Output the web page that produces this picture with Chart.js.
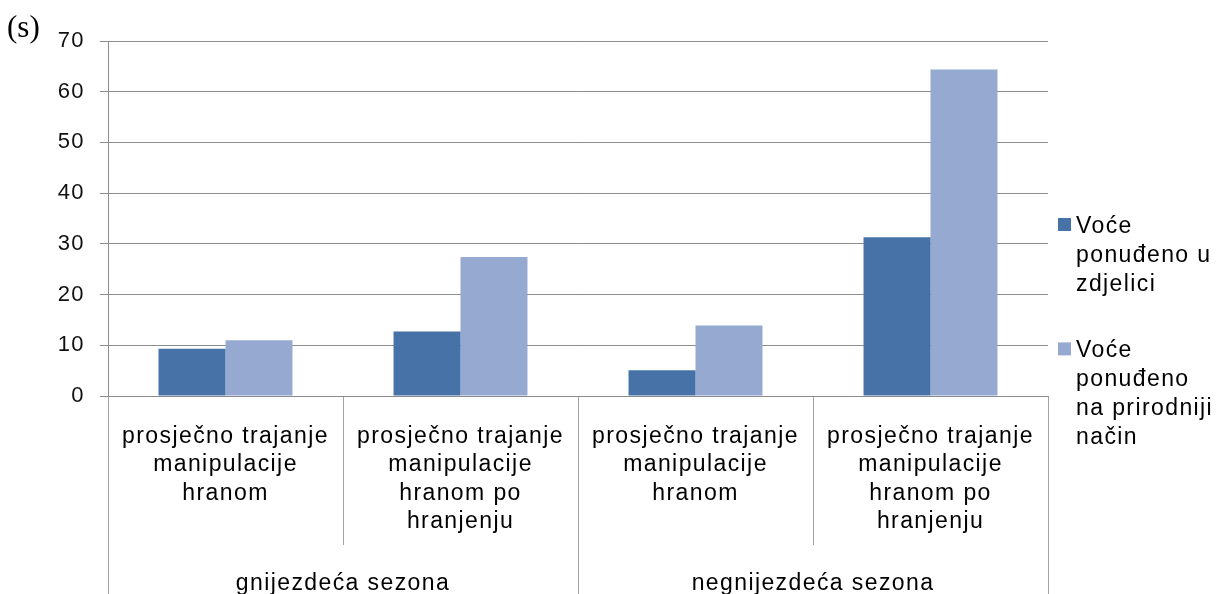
<!DOCTYPE html>
<html lang="hr">
<head>
<meta charset="utf-8">
<title>Trajanje manipulacije hranom</title>
<script src="https://cdn.jsdelivr.net/npm/chart.js@4.4.1/dist/chart.umd.min.js"></script>
<style>
  html, body { margin: 0; padding: 0; background: #fff; }
  #wrap { position: relative; width: 1216px; height: 594px; }
</style>
</head>
<body>
<div id="wrap"><canvas id="durationChart"></canvas></div>
<script>
// Categories: inner level (behaviour) and outer level (season)
const behaviours = [
  ['prosječno trajanje', 'manipulacije', 'hranom'],
  ['prosječno trajanje', 'manipulacije', 'hranom po', 'hranjenju'],
  ['prosječno trajanje', 'manipulacije', 'hranom'],
  ['prosječno trajanje', 'manipulacije', 'hranom po', 'hranjenju']
];
const seasons = ['gnijezdeća sezona', 'negnijezdeća sezona'];

// Duration in seconds
const bowlValues = [9.3, 12.7, 5.1, 31.3];
const naturalValues = [11.0, 27.4, 13.9, 64.4];

const seriesNames = ['Voće ponuđeno u zdjelici', 'Voće ponuđeno na prirodniji način'];
const seriesLines = [
  ['Voće', 'ponuđeno u', 'zdjelici'],
  ['Voće', 'ponuđeno', 'na prirodniji', 'način']
];

const yTicks = [0, 10, 20, 30, 40, 50, 60, 70];

const SANS = "'Liberation Sans', Arial, sans-serif";
const LINE = 28.8;
const gridGray = '#8c8c8c';
const sepGray = '#a2a2a2';

// Wide letter spacing for all canvas text
const spacing = {
  id: 'spacing',
  beforeDraw(chart) {
    chart.ctx.letterSpacing = '1.4px';
  }
};

// Unit label in the top left corner
const unitLabel = {
  id: 'unitLabel',
  afterDraw(chart) {
    const ctx = chart.ctx;
    ctx.save();
    ctx.letterSpacing = '0px';
    ctx.font = "31px 'Liberation Serif', 'Times New Roman', serif";
    ctx.fillStyle = '#000';
    ctx.textAlign = 'left';
    ctx.textBaseline = 'alphabetic';
    ctx.fillText('(s)', 7, 37);
    ctx.restore();
  }
};

// Legend on the right, with wrapped series names
const sideLegend = {
  id: 'sideLegend',
  afterDraw(chart) {
    const ctx = chart.ctx;
    const left = chart.chartArea.right + 10;
    let baseline = 233;
    ctx.save();
    ctx.letterSpacing = '1.4px';
    ctx.font = '23px ' + SANS;
    ctx.textAlign = 'left';
    ctx.textBaseline = 'alphabetic';
    chart.data.datasets.forEach((ds, i) => {
      ctx.fillStyle = ds.backgroundColor;
      ctx.fillRect(left, baseline - 15, 13, 13);
      ctx.fillStyle = '#000';
      seriesLines[i].forEach((line, j) => {
        ctx.fillText(line, left + 18, baseline + j * LINE);
      });
      baseline += seriesLines[i].length * LINE + 38;
    });
    ctx.restore();
  }
};

const ctx = document.getElementById('durationChart').getContext('2d');

new Chart(ctx, {
  type: 'bar',
  data: {
    labels: behaviours,
    datasets: [
      {
        label: seriesNames[0],
        data: bowlValues,
        backgroundColor: '#4672a8',
        borderWidth: 0
      },
      {
        label: seriesNames[1],
        data: naturalValues,
        backgroundColor: '#95a9d1',
        borderWidth: 0
      }
    ]
  },
  options: {
    responsive: true,
    maintainAspectRatio: false,
    animation: false,
    datasets: {
      bar: {
        categoryPercentage: 0.57,
        barPercentage: 1
      }
    },
    layout: {
      padding: { top: 41, right: 168, bottom: 0, left: 0 }
    },
    plugins: {
      legend: { display: false },
      tooltip: { enabled: false }
    },
    scales: {
      x: {
        type: 'category',
        position: 'bottom',
        offset: true,
        weight: 0,
        grid: {
          offset: true,
          drawOnChartArea: false,
          tickLength: 149,
          color: sepGray
        },
        border: { color: gridGray },
        ticks: {
          autoSkip: false,
          maxRotation: 0,
          minRotation: 0,
          padding: -123,
          color: '#000',
          font: { family: SANS, size: 23, lineHeight: 1.24 }
        },
        afterFit(scale) {
          scale.height = 149;
        }
      },
      season: {
        type: 'category',
        axis: 'x',
        position: 'bottom',
        labels: seasons,
        offset: true,
        weight: 1,
        grid: {
          offset: true,
          drawOnChartArea: false,
          tickLength: 60,
          color: sepGray
        },
        border: { display: false },
        ticks: {
          autoSkip: false,
          maxRotation: 0,
          minRotation: 0,
          padding: -36,
          color: '#000',
          font: { family: SANS, size: 23, lineHeight: 1.24 }
        },
        afterFit(scale) {
          scale.height = 49;
        }
      },
      y: {
        min: yTicks[0],
        max: yTicks[yTicks.length - 1],
        grid: {
          color: gridGray,
          tickLength: 8
        },
        border: { color: gridGray },
        ticks: {
          stepSize: yTicks[1] - yTicks[0],
          padding: 15,
          color: '#111',
          font: { family: SANS, size: 22 }
        },
        afterFit(scale) {
          scale.width = 108;
        }
      }
    }
  },
  plugins: [spacing, unitLabel, sideLegend]
});
</script>
</body>
</html>
